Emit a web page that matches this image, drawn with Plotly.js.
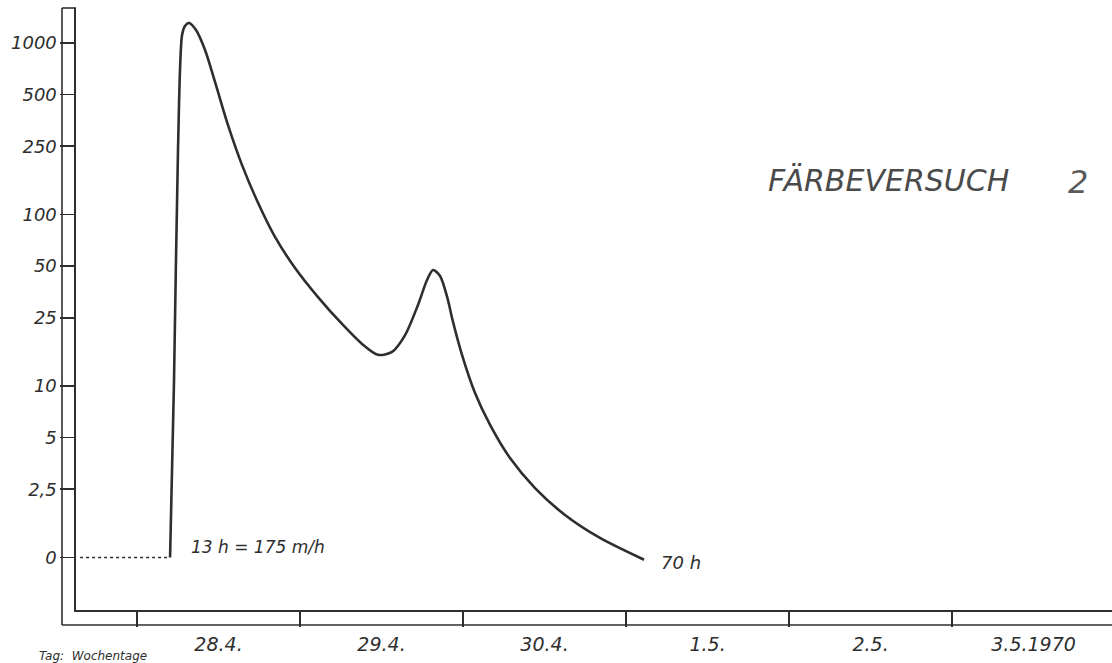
<!DOCTYPE html>
<html>
<head>
<meta charset="utf-8">
<script src="https://cdn.plot.ly/plotly-3.0.1.min.js"></script>
<style>html,body{margin:0;padding:0;background:#fff;}#chart{width:1112px;height:663px;}</style>
</head>
<body>
<div id="chart"></div>
<script>
// Concentration curve (y on log scale; the "0" row sits at value 1)
const curveTimes = [
  '1970-04-28 04:52','1970-04-28 05:27','1970-04-28 06:02','1970-04-28 06:38',
  '1970-04-28 07:04','1970-04-28 07:40','1970-04-28 08:41','1970-04-28 10:01',
  '1970-04-28 11:29','1970-04-28 13:24','1970-04-28 15:28','1970-04-28 17:49',
  '1970-04-28 20:19','1970-04-28 23:16','1970-04-29 02:39','1970-04-29 06:11',
  '1970-04-29 09:08','1970-04-29 11:29','1970-04-29 13:33','1970-04-29 15:28',
  '1970-04-29 17:22','1970-04-29 18:42','1970-04-29 19:35','1970-04-29 20:37',
  '1970-04-29 21:47','1970-04-29 22:23','1970-04-29 23:51','1970-04-30 01:46',
  '1970-04-30 03:59','1970-04-30 06:55','1970-04-30 10:36','1970-04-30 15:01',
  '1970-04-30 20:10','1970-05-01 02:39'
];
const curveValues = [
  1, 10.8, 238, 1113,
  1257, 1309, 1191, 910,
  593, 332, 194, 117,
  74, 48.8, 33.0, 23.0,
  17.6, 15.2, 15.8, 19.8,
  29.7, 41.5, 47.5, 43.8,
  31.7, 24.9, 15.2, 9.1,
  5.93, 3.80, 2.54, 1.77,
  1.30, 0.97
];
// dotted baseline before the first arrival
const baselineTimes = ['1970-04-27 15:37','1970-04-28 04:34'];
const baselineValues = [1, 1];

const yTickVals = [1, 2.5, 5, 10, 25, 50, 100, 250, 500, 1000];
const yTickText = ['0', '2,5', '5', '10', '25', '50', '100', '250', '500', '1000'];
const dayLabelVals = ['1970-04-28 12:00','1970-04-29 12:00','1970-04-30 12:00','1970-05-01 12:00','1970-05-02 12:00','1970-05-03 12:00'];
const dayLabelText = ['28.4.', '29.4.', '30.4.', '1.5.', '2.5.', '3.5.1970'];
const dayBoundaries = ['1970-04-28','1970-04-29','1970-04-30','1970-05-01','1970-05-02','1970-05-03'];

const INK = '#2e2e2e';
const FONT = 'DejaVu Sans, sans-serif';

const traces = [
  {x: curveTimes, y: curveValues, type: 'scatter', mode: 'lines',
   line: {color: INK, width: 2.6, shape: 'spline', smoothing: 0.8}, hoverinfo: 'skip'},
  {x: baselineTimes, y: baselineValues, type: 'scatter', mode: 'lines',
   line: {color: INK, width: 1.6, dash: 'dot'}, hoverinfo: 'skip'}
];

// geometry helpers in paper units (plot area 76..1112 x 8..610)
const PW = 1036, PH = 602;
const px = v => (v - 76) / PW;
const py = v => (610 - v) / PH;

const layout = {
  width: 1112, height: 663,
  margin: {l: 76, r: 0, t: 8, b: 53},
  paper_bgcolor: '#ffffff', plot_bgcolor: '#ffffff',
  showlegend: false,
  font: {family: FONT, color: INK},
  xaxis: {
    type: 'date',
    range: ['1970-04-27 15:01', '1970-05-03 23:33'],
    showgrid: false, zeroline: false,
    showline: true, linecolor: INK, linewidth: 1.6,
    tickmode: 'array', tickvals: dayLabelVals, ticktext: dayLabelText,
    ticks: 'outside', ticklen: 15, tickcolor: 'rgba(0,0,0,0)',
    ticklabelstandoff: 2,
    tickfont: {family: FONT, size: 19, color: INK, style: 'italic'},
    minor: {tickmode: 'array', tickvals: dayBoundaries, ticks: 'outside', ticklen: 15,
            tickwidth: 1.6, tickcolor: INK, showgrid: false}
  },
  yaxis: {
    type: 'log',
    range: [-0.306, 3.204],
    showgrid: false, zeroline: false,
    showline: true, linecolor: INK, linewidth: 1.6,
    tickmode: 'array', tickvals: yTickVals, ticktext: yTickText,
    ticks: 'outside', ticklen: 14, tickwidth: 1.6, tickcolor: INK,
    tickfont: {family: FONT, size: 18, color: INK, style: 'italic'}
  },
  shapes: [
    // outer line of the y-axis frame
    {type: 'line', xref: 'paper', yref: 'paper', x0: px(62), x1: px(62), y0: py(625), y1: py(8),
     line: {color: INK, width: 1.6}},
    // top closing of the y-axis frame
    {type: 'line', xref: 'paper', yref: 'paper', x0: px(62), x1: px(76), y0: py(8), y1: py(8),
     line: {color: INK, width: 1.6}},
    // outer line of the x-axis frame
    {type: 'line', xref: 'paper', yref: 'paper', x0: px(62), x1: px(1112), y0: py(625), y1: py(625),
     line: {color: INK, width: 1.6}}
  ],
  annotations: [
    {xref: 'paper', yref: 'paper', x: px(189), y: py(547), xanchor: 'left', yanchor: 'middle',
     text: '13 h = 175 m/h', showarrow: false,
     font: {family: FONT, size: 17, color: INK, style: 'italic'}},
    {xref: 'paper', yref: 'paper', x: px(659), y: py(562), xanchor: 'left', yanchor: 'middle',
     text: '70 h', showarrow: false,
     font: {family: FONT, size: 18, color: INK, style: 'italic'}},
    {xref: 'paper', yref: 'paper', x: px(766), y: py(180), xanchor: 'left', yanchor: 'middle',
     text: 'FÄRBEVERSUCH', showarrow: false,
     font: {family: FONT, size: 30, color: '#4a4a4a', style: 'italic'}},
    {xref: 'paper', yref: 'paper', x: px(1078), y: py(182), xanchor: 'center', yanchor: 'middle',
     text: '2', showarrow: false,
     font: {family: FONT, size: 32, color: '#5a5a5a', style: 'italic'}},
    {xref: 'paper', yref: 'paper', x: px(37), y: py(656), xanchor: 'left', yanchor: 'middle',
     text: 'Tag:  Wochentage', showarrow: false,
     font: {family: FONT, size: 12, color: INK, style: 'italic'}}
  ]
};

Plotly.newPlot('chart', traces, layout, {staticPlot: true, displayModeBar: false});
</script>
</body>
</html>
